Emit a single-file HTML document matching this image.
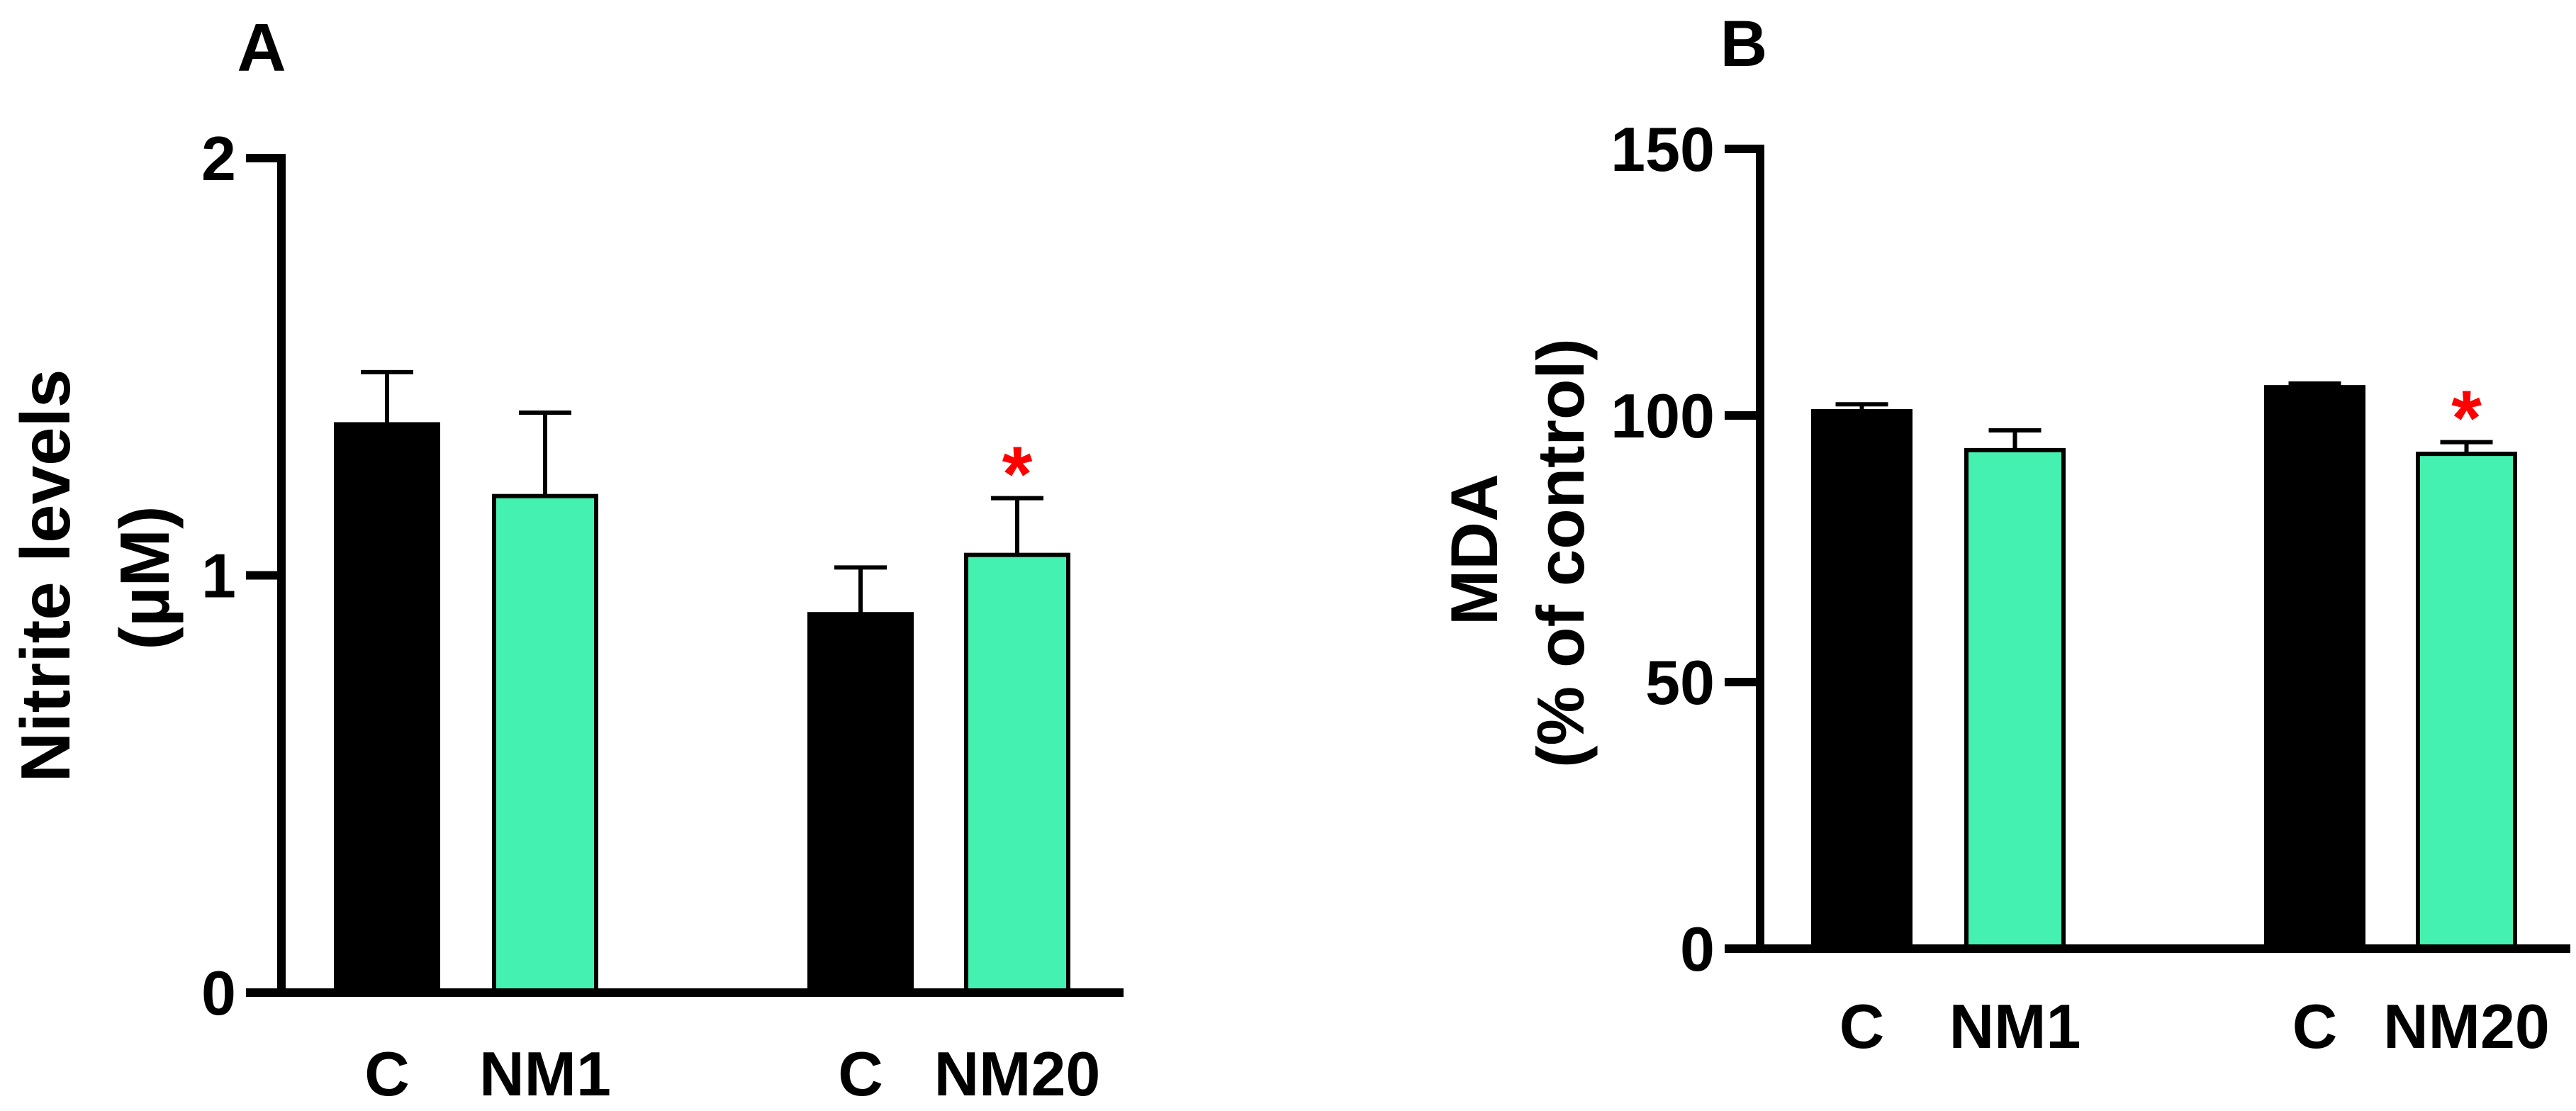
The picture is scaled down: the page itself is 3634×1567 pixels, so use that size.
<!DOCTYPE html>
<html><head><meta charset="utf-8"><style>
html,body{margin:0;padding:0;background:#fff;}
svg{display:block;font-family:"Liberation Sans",Arial,sans-serif;font-weight:bold;}
</style></head><body>
<svg id="chart" width="3634" height="1567" viewBox="0 0 3634 1567" xmlns="http://www.w3.org/2000/svg">
<text x="369" y="100" font-size="96" text-anchor="middle">A</text>
<text x="2460" y="93" font-size="92" text-anchor="middle">B</text>
<text transform="translate(98,812) rotate(-90)" font-size="98" text-anchor="middle">Nitrite levels</text>
<text transform="translate(238,815) rotate(-90)" font-size="98" text-anchor="middle">(µM)</text>
<text transform="translate(2112,775) rotate(-90)" font-size="94" text-anchor="middle">MDA</text>
<text transform="translate(2234,780) rotate(-90)" font-size="94" text-anchor="middle">(% of control)</text>
<g id="panelA"></g>
<g id="panelB"></g>
</svg>
<script>
const categories = ["C","NM1","C","NM20"];
const nitriteValues = [1.362, 1.19, 0.907, 1.049];
const nitriteErrors = [0.125, 0.20, 0.112, 0.136];
const nitriteTicks = [0, 1, 2];
const nitriteSig = [false, false, false, true];
const mdaValues = [100.8, 93.5, 105.3, 92.8];
const mdaErrors = [1.3, 3.7, 0.7, 2.2];
const mdaTicks = [0, 50, 100, 150];
const mdaSig = [false, false, false, true];

const NS = "http://www.w3.org/2000/svg";
function mk(parent, tag, attrs){ const e=document.createElementNS(NS,tag); for(const k in attrs) e.setAttribute(k,attrs[k]); parent.appendChild(e); return e; }

function drawPanel(g, cfg, values, errors, ticks, sig){
  const y = v => cfg.y0 - (v - cfg.min) / (cfg.max - cfg.min) * (cfg.y0 - cfg.yTop);
  values.forEach((v,i)=>{
    const x0 = cfg.barX[i], w = cfg.barW;
    const cx = x0 + w/2;
    const green = i % 2 === 1;
    const eb = mk(g,'line',{x1:cx,x2:cx,y1:y(v),y2:y(v+errors[i]),stroke:'#000','stroke-width':6});
    
    
    const cap = mk(g,'line',{x1:cx-37,x2:cx+37,y1:y(v+errors[i]),y2:y(v+errors[i]),stroke:'#000','stroke-width':6});
    
    
    const r = mk(g,'rect',{x:x0+3,y:y(v),width:w-6,height:y(cfg.min)-y(v),fill:green?'#45F1B0':'#000',stroke:'#000','stroke-width':6});
    
    
    const t = mk(g,'text',{x:cx,y:cfg.labelY,'font-size':88,'text-anchor':'middle'});
    t.textContent = categories[i];
    
    
    if(sig[i]){
      const s = mk(g,'text',{x:cx,y:y(v+errors[i])+4,'font-size':110,'text-anchor':'middle',fill:'#FF0000'});
      s.textContent='*';
      
      
    }
  });
  const ya = mk(g,'line',{x1:cfg.axisX,x2:cfg.axisX,y1:y(cfg.max)-6,y2:cfg.y0+6,stroke:'#000','stroke-width':12});
  
  
  const xa = mk(g,'line',{x1:cfg.axisX-50,x2:cfg.xEnd,y1:cfg.y0,y2:cfg.y0,stroke:'#000','stroke-width':12});
  
  
  ticks.forEach(tv=>{
    const tl = mk(g,'line',{x1:cfg.axisX-50,x2:cfg.axisX,y1:y(tv),y2:y(tv),stroke:'#000','stroke-width':12});
    
    
    const tt = mk(g,'text',{x:cfg.axisX-64,y:y(tv)+31,'font-size':88,'text-anchor':'end'});
    tt.textContent = tv;
    
    
  });
}

drawPanel(document.getElementById('panelA'),
  {min:0,max:2,y0:1400,yTop:223,axisX:397,xEnd:1585,barX:[471,694,1139,1360],barW:150,labelY:1545},
  nitriteValues, nitriteErrors, nitriteTicks, nitriteSig);
drawPanel(document.getElementById('panelB'),
  {min:0,max:150,y0:1338,yTop:210,axisX:2483,xEnd:3626,barX:[2555,2771,3194,3408],barW:143,labelY:1478},
  mdaValues, mdaErrors, mdaTicks, mdaSig);
</script>
</body></html>
